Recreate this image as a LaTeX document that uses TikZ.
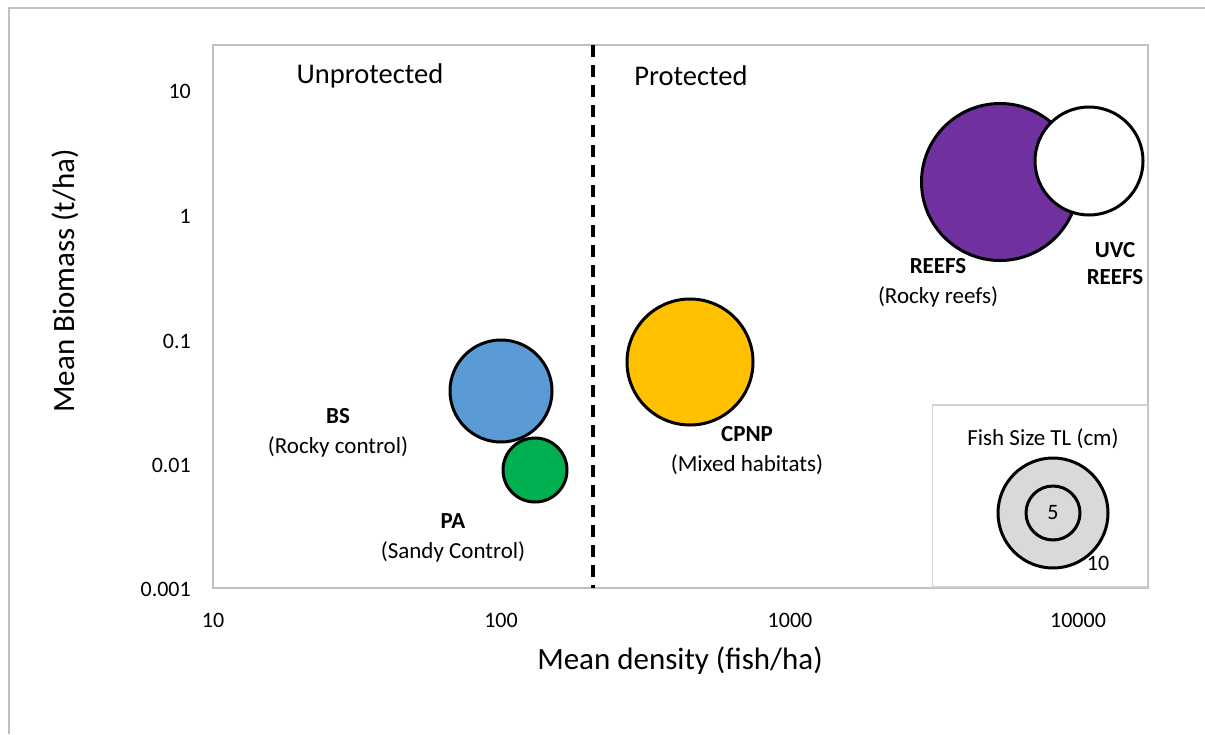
\documentclass[tikz,border=0pt]{standalone}
\usepackage{fontspec}
\setmainfont{Carlito}
\usetikzlibrary{positioning}

\definecolor{framegray}{HTML}{BFBFBF}
\definecolor{keyframe}{HTML}{D0D0D0}
\definecolor{keyfill}{HTML}{D9D9D9}
\definecolor{bsblue}{HTML}{5B9BD5}
\definecolor{pagreen}{HTML}{00B050}
\definecolor{cpnpyellow}{HTML}{FFC000}
\definecolor{reefpurple}{HTML}{7030A0}

\begin{document}
\begin{tikzpicture}[x=1pt,y=-1pt,node distance=30pt,
                    bubble/.style={circle,draw=black,line width=3pt,inner sep=0pt},
                    ticklabel/.style={font=\fontsize{22}{24}\selectfont,inner sep=0pt},
                    sitename/.style={font=\fontsize{23}{25}\selectfont\bfseries,
                                     text height=15pt,text depth=5pt,inner sep=0pt},
                    sitenote/.style={font=\fontsize{23}{25}\selectfont,
                                     text height=15pt,text depth=5pt,inner sep=0pt}]
    \tikzstyle{zone}=[font=\fontsize{28.5}{30}\selectfont]
    \tikzstyle{axistitle}=[font=\fontsize{31}{33}\selectfont]

    \useasboundingbox (0,0) rectangle (1205,734);
    % outer chart border
    \draw[framegray,line width=2.5pt] (9,734) -- (9,8) -- (1205,8);

    % plot area
    \draw[framegray,line width=2pt] (213,45) rectangle (1148,588);
    \coordinate (divtop) at (593,45);
    \coordinate (divbot) at (593,588);
    \draw[line width=3.5pt,dash pattern=on 12pt off 8pt] (divtop) -- (divbot);

    \node[zone] (unprot) at (370,76) {Unprotected};
    \node[zone] (prot)   at (691,76) {Protected};

    % log ticks
    \node[ticklabel,anchor=east] (y10)   at (191,91)  {10};
    \node[ticklabel,anchor=east] (y1)    at (191,216) {1};
    \node[ticklabel,anchor=east] (y01)   at (191,341) {0.1};
    \node[ticklabel,anchor=east] (y001)  at (191,465) {0.01};
    \node[ticklabel,anchor=east] (y0001) at (191,589) {0.001};
    \node[ticklabel] (x10)    at (213,620)  {10};
    \node[ticklabel] (x100)   at (501,620)  {100};
    \node[ticklabel] (x1000)  at (790,620)  {1000};
    \node[ticklabel] (x10000) at (1078,620) {10000};

    \node[axistitle] (xtitle) at (680,661) {Mean density (fish/ha)};
    \node[axistitle,rotate=90] (ytitle) at (65,281) {Mean Biomass (t/ha)};

    % sites
    \node[bubble,fill=bsblue,minimum size=102pt]     (bs)    at (501,391)  {};
    \node[bubble,fill=pagreen,minimum size=64pt]     (pa)    at (535,470)  {};
    \node[bubble,fill=cpnpyellow,minimum size=126pt] (cpnp)  at (690,362)  {};
    \node[bubble,fill=reefpurple,minimum size=157pt] (reefs) at (1000,182) {};
    \node[bubble,fill=white,minimum size=108pt]      (uvc)   at (1089,161) {};

    \node[sitename] (bsname)    at (338,418)  {BS};
    \node[sitenote]             [below of=bsname]    {(Rocky control)};
    \node[sitename] (paname)    at (453,523)  {PA};
    \node[sitenote]             [below of=paname]    {(Sandy Control)};
    \node[sitename] (cpnpname)  at (747,436)  {CPNP};
    \node[sitenote]             [below of=cpnpname]  {(Mixed habitats)};
    \node[sitename] (reefsname) at (938,268)  {REEFS};
    \node[sitenote]             [below of=reefsname] {(Rocky reefs)};
    \node[sitename] (uvcname)   at (1115,252) {UVC};
    \node[sitename]             [below of=uvcname,yshift=3pt] {REEFS};

    % size key
    \node[draw=keyframe,line width=1.5pt,minimum width=215pt,minimum height=182pt,
          inner sep=0pt] (key) at (1040,496) {};
    \node[sitenote,font=\fontsize{23}{25}\selectfont] (keytitle) at (1043,440) {Fish Size TL (cm)};
    \node[bubble,fill=keyfill,minimum size=110pt] (ten)  at (1053,513) {};
    \node[bubble,fill=keyfill,minimum size=54pt,font=\fontsize{22}{24}\selectfont] (five) at (1053,513) {5};
    \node[ticklabel] (tenlab) at (1098,563) {10};
\end{tikzpicture}
\end{document}
